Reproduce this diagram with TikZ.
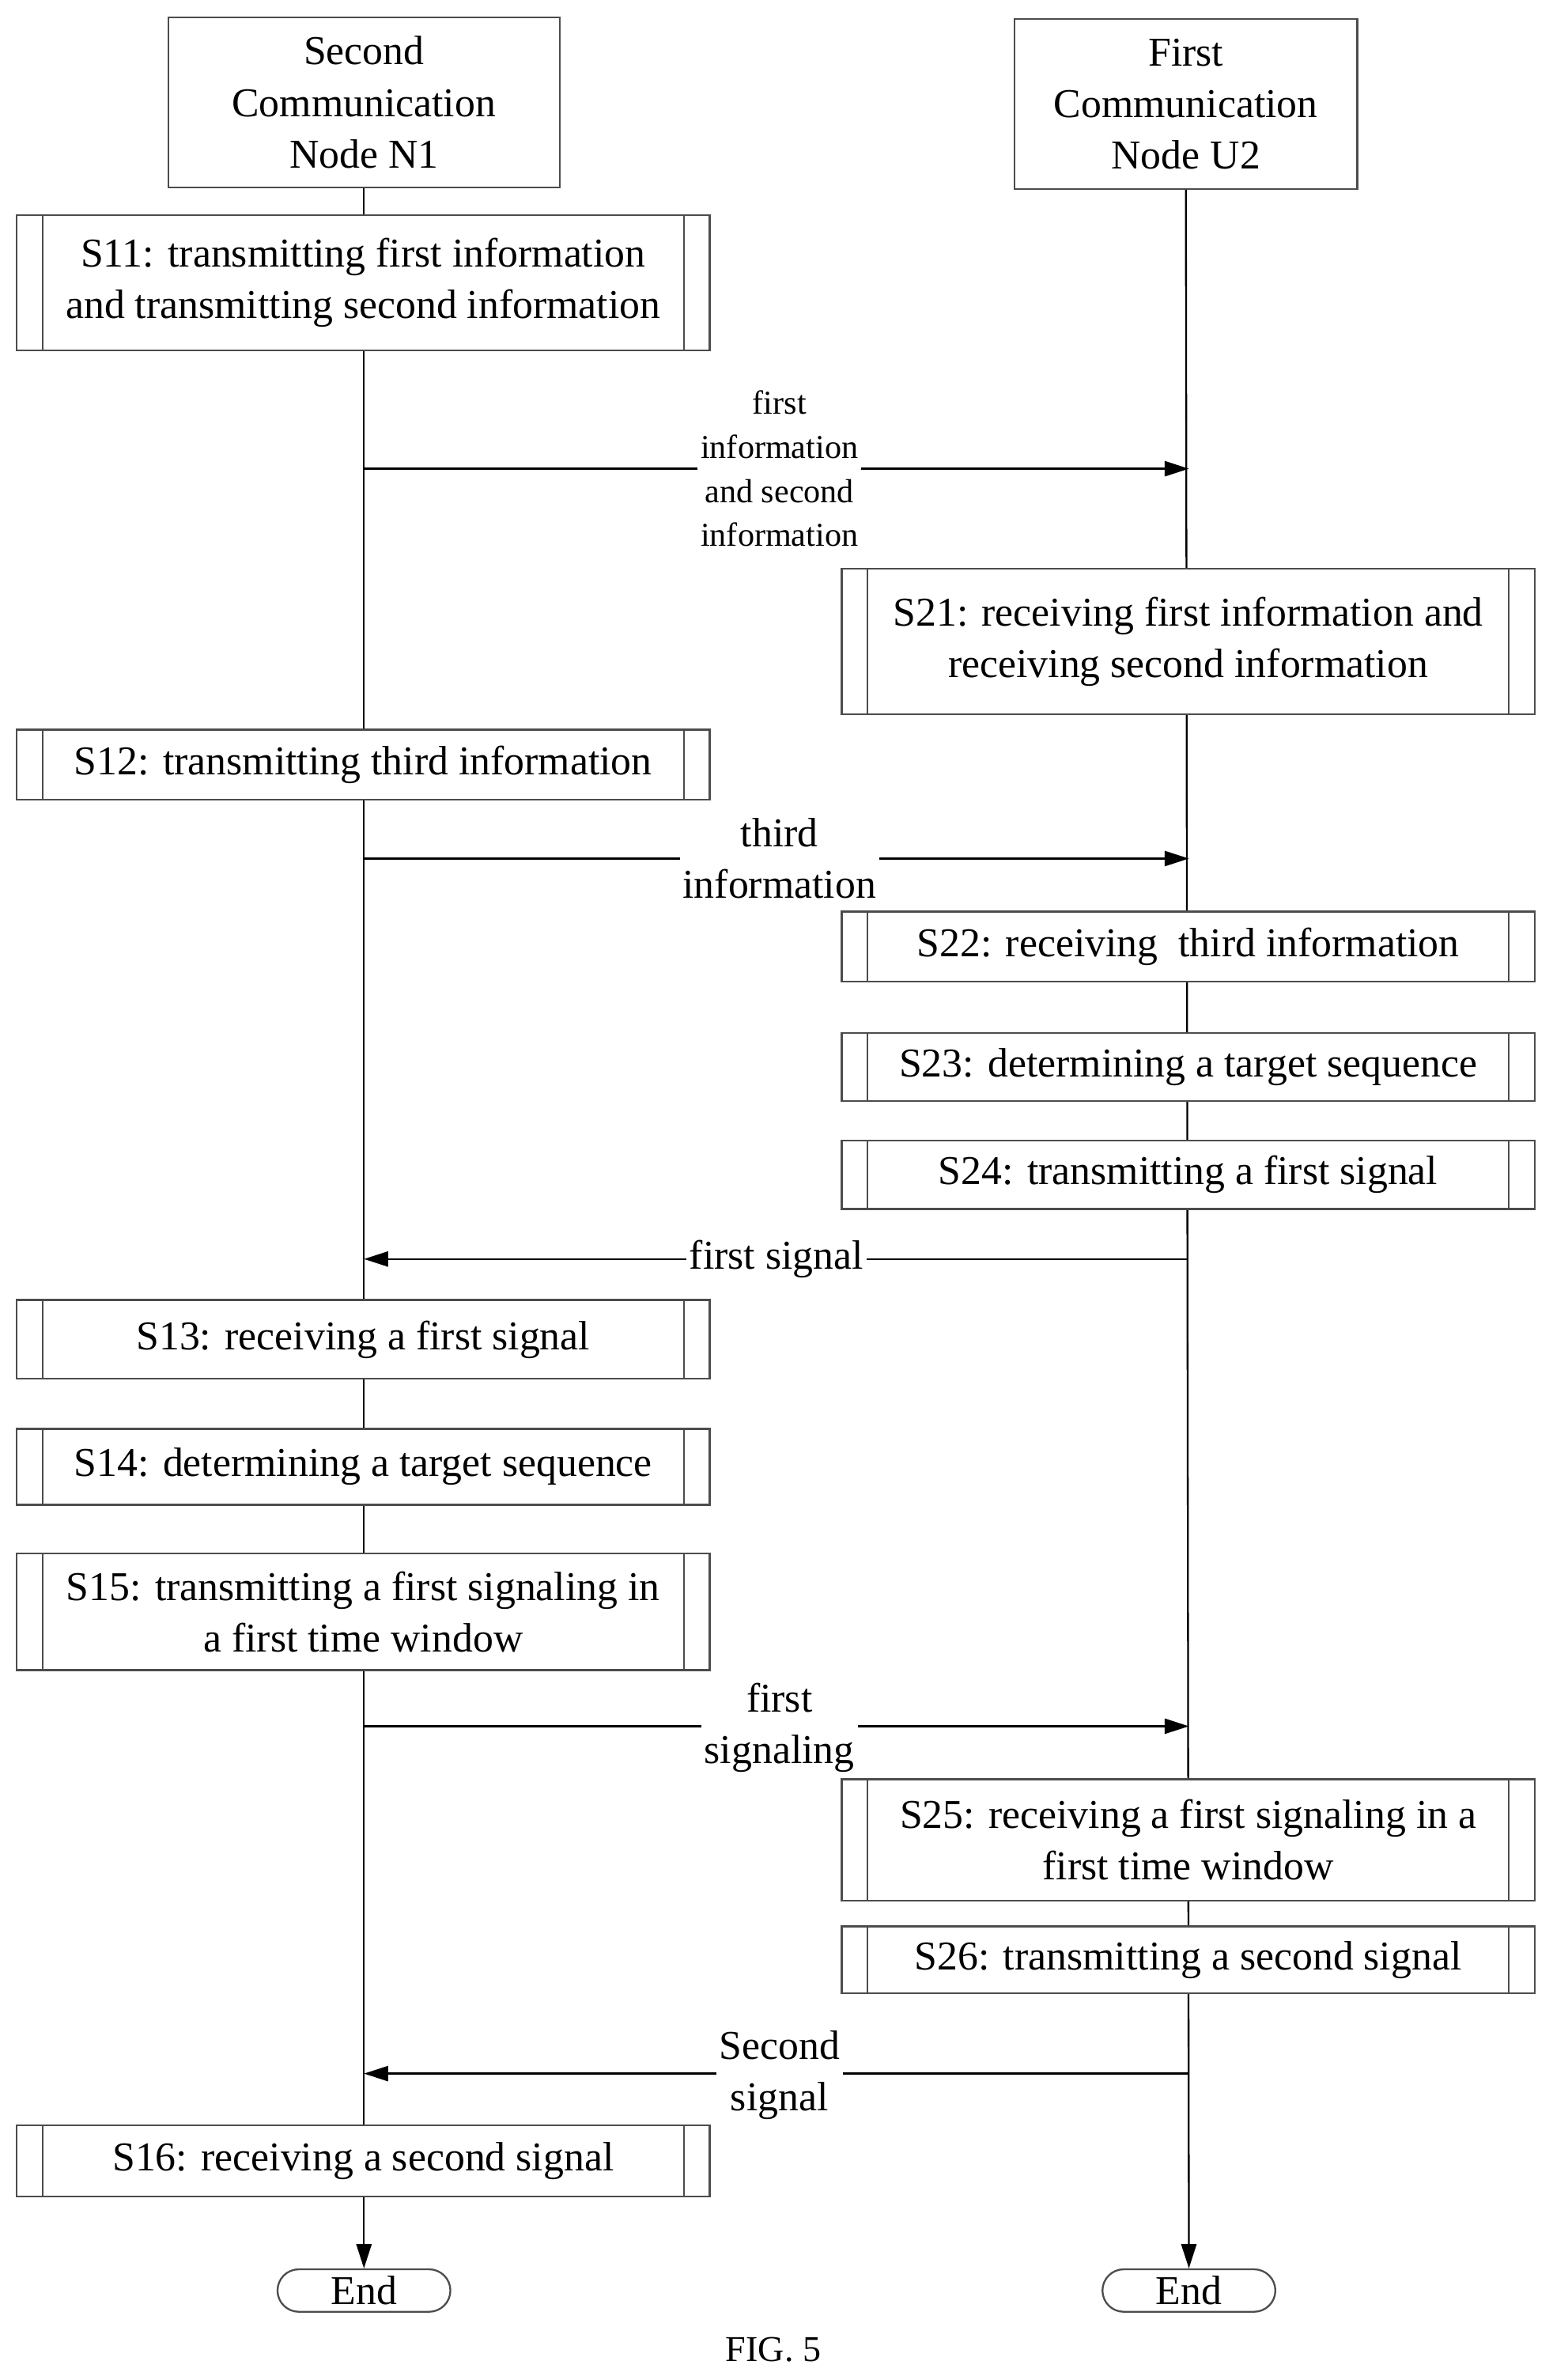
\documentclass[tikz,border=0pt]{standalone}
\usepackage{fontspec}
\setmainfont{Liberation Serif}
\usetikzlibrary{arrows.meta}
\tikzset{every picture/.style={line width=0.6pt}}
\tikzset{
  head/.style={draw=gray!60!black, fill=white, align=center, minimum width=129pt, minimum height=56pt, font=\fontsize{13.5}{17}\selectfont},
  proc/.style={draw=gray!60!black, fill=white, align=center, minimum width=228.5pt, font=\fontsize{13.5}{17}\selectfont,
    path picture={\draw[gray!60!black] ([xshift=8.5pt]path picture bounding box.north west) -- ([xshift=8.5pt]path picture bounding box.south west);
                  \draw[gray!60!black] ([xshift=-8.5pt]path picture bounding box.north east) -- ([xshift=-8.5pt]path picture bounding box.south east);}},
  term/.style={draw=gray!60!black, fill=white, rounded corners=7pt, minimum width=57pt, minimum height=14pt, inner sep=0pt, font=\fontsize{13.5}{17}\selectfont},
  msg/.style={-{Triangle[length=8pt,width=5pt]}},
  lbl/.style={fill=white, align=center, inner sep=1pt, font=\fontsize{13.5}{17}\selectfont},
  slbl/.style={fill=white, align=center, inner sep=1pt, font=\fontsize{11}{14.5}\selectfont}
}
\begin{document}
\begin{tikzpicture}[x=0.5pt,y=-0.5pt]
	\useasboundingbox (0,0) rectangle (1024,1569);

	% heads
	\node[head] (n1) at (240,67.5) {Second\\Communication\\Node N1};
	\node[head, minimum width=113pt] (u2) at (782,68.5) {First\\Communication\\Node U2};

	% terminators
	\node[term] (endl) at (240,1510) {End};
	\node[term] (endr) at (784,1510) {End};

	% lifelines
	\draw[msg] (n1) -- (endl);
	\draw[msg] (u2.south) -- (endr.north);

	% left steps
	\node[proc, minimum height=44.5pt] (s11) at (239.5,186.5) {S11: transmitting first information\\and transmitting second information};
	\node[proc, minimum height=23pt] (s12) at (239.5,504) {S12: transmitting third information};
	\node[proc, minimum height=26pt] (s13) at (239.5,883) {S13: receiving a first signal};
	\node[proc, minimum height=25pt] (s14) at (239.5,967) {S14: determining a target sequence};
	\node[proc, minimum height=38.5pt] (s15) at (239.5,1062.5) {S15: transmitting a first signaling in\\a first time window};
	\node[proc, minimum height=23.5pt] (s16) at (239.5,1424.5) {S16: receiving a second signal};

	% right steps
	\node[proc, minimum height=48pt] (s21) at (783.5,423) {S21: receiving first information and\\receiving second information};
	\node[proc, minimum height=23pt] (s22) at (783.5,624) {S22: receiving\ \ third information};
	\node[proc, minimum height=22.5pt] (s23) at (783.5,703.5) {S23: determining a target sequence};
	\node[proc, minimum height=22.5pt] (s24) at (783.5,774.5) {S24: transmitting a first signal};
	\node[proc, minimum height=40pt] (s25) at (783.5,1213) {S25: receiving a first signaling in a\\first time window};
	\node[proc, minimum height=22pt] (s26) at (783.5,1292) {S26: transmitting a second signal};

	% message ends
	\coordinate (a1) at (240,309);  \coordinate (b1) at (784,309);
	\coordinate (a2) at (240,566);  \coordinate (b2) at (784,566);
	\coordinate (a3) at (240,830);  \coordinate (b3) at (783,830);
	\coordinate (a4) at (240,1138); \coordinate (b4) at (784,1138);
	\coordinate (a5) at (240,1367); \coordinate (b5) at (784,1367);

	% messages
	\draw[msg] (a1) -- (b1);
	\node[slbl] (m1) at (514,309) {first\\information\\and second\\information};
	\draw[msg] (a2) -- (b2);
	\node[lbl] (m2) at (514,566) {third\\information};
	\draw[msg] (b3) -- (a3);
	\node[lbl] (m3) at (512,830) {first signal};
	\draw[msg] (a4) -- (b4);
	\node[lbl] (m4) at (514,1139) {first\\signaling};
	\draw[msg] (b5) -- (a5);
	\node[lbl] (m5) at (514,1368) {Second\\signal};

	\node[font=\fontsize{12}{14}\selectfont] (fig) at (510,1549) {FIG. 5};
\end{tikzpicture}
\end{document}
